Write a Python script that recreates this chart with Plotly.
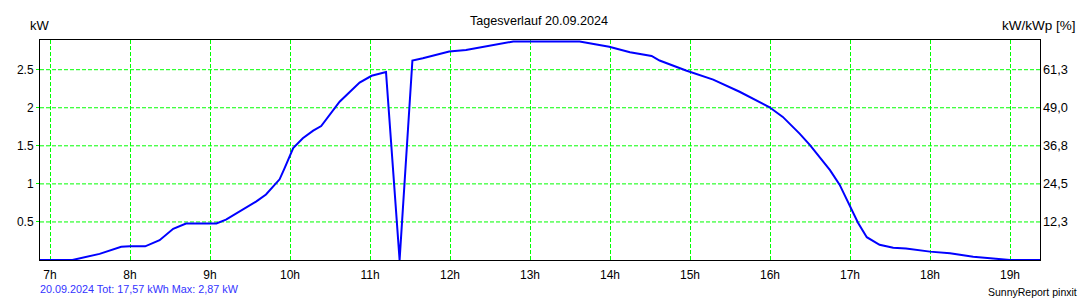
import plotly.graph_objects as go

# --- data ---
hours = [6.875, 7.28, 7.62, 7.89, 8.0, 8.19, 8.37, 8.54, 8.70, 9.08, 9.20, 9.41,
         9.58, 9.70, 9.79, 9.87, 9.93, 10.04, 10.16, 10.29, 10.39, 10.50, 10.62,
         10.75, 10.87, 11.02, 11.18, 11.20, 11.37, 11.53, 11.66, 11.99, 12.20,
         12.54, 12.79, 13.0, 13.62, 13.99, 14.25, 14.52, 14.62, 14.95, 15.29,
         15.62, 15.99, 16.16, 16.29, 16.37, 16.50, 16.66, 16.75, 16.87, 17.0,
         17.10, 17.21, 17.37, 17.54, 17.70, 18.0, 18.25, 18.54, 18.87, 19.0, 19.375]
power_kw = [0, 0, 0.08, 0.175, 0.18, 0.18, 0.26, 0.41, 0.48, 0.48, 0.53, 0.66,
            0.77, 0.86, 0.96, 1.06, 1.20, 1.47, 1.60, 1.70, 1.76, 1.91, 2.08,
            2.21, 2.33, 2.42, 2.47, 2.47, 0.0, 2.62, 2.65, 2.74, 2.76,
            2.82, 2.87, 2.87, 2.87, 2.80, 2.73, 2.68, 2.62, 2.49, 2.37,
            2.21, 2.01, 1.88, 1.75, 1.66, 1.51, 1.29, 1.18, 0.99, 0.70,
            0.49, 0.30, 0.20, 0.16, 0.15, 0.11, 0.088, 0.043, 0.01, 0.0, 0.0]

x_tickvals = list(range(7, 20))
x_ticktext = [f"{h}h" for h in x_tickvals]
y_tickvals = [0.5, 1.0, 1.5, 2.0, 2.5]
y_ticktext = ["0.5", "1", "1.5", "2", "2.5"]
y2_ticktext = ["12,3", "24,5", "36,8", "49,0", "61,3"]

title_text = "Tagesverlauf 20.09.2024"
left_unit = "kW"
right_unit = "kW/kWp [%]"
footer_left = "20.09.2024 Tot: 17,57 kWh Max: 2,87 kW"
footer_right = "SunnyReport pinxit"

FONT = "Liberation Sans, Arial, sans-serif"
GREEN = "#00ff00"
Y_MAX = 2.89
PLOT_TOP, PLOT_BOTTOM = 40, 260
PLOT_H = PLOT_BOTTOM - PLOT_TOP

fig = go.Figure()
fig.add_trace(go.Scatter(x=hours, y=power_kw, mode="lines",
                         line=dict(color="#0000ff", width=2),
                         showlegend=False, hoverinfo="skip"))

axis_font = dict(family=FONT, size=12, color="black")

fig.update_layout(
    template="none",
    width=1080, height=300,
    margin=dict(l=40, r=40, t=PLOT_TOP, b=300 - PLOT_BOTTOM),
    paper_bgcolor="white", plot_bgcolor="white",
    font=axis_font,
    xaxis=dict(range=[6.875, 19.375], tickvals=x_tickvals, ticktext=x_ticktext,
               showgrid=True, gridcolor=GREEN, gridwidth=1, griddash="4px,2px",
               showline=True, linecolor="black", linewidth=1, mirror=True,
               ticks="", ticklabelstandoff=4, zeroline=False, tickfont=axis_font,
               fixedrange=True),
    yaxis=dict(range=[0, Y_MAX], tickvals=y_tickvals, ticktext=y_ticktext,
               showgrid=False,
               showline=True, linecolor="black", linewidth=1, mirror=True,
               ticks="outside", ticklen=3, tickcolor=GREEN,
               zeroline=False, tickfont=axis_font, fixedrange=True),
)

# horizontal green dashed grid lines at the y tick values
for v in y_tickvals:
    fig.add_shape(type="line", xref="paper", yref="y", x0=0, x1=1, y0=v, y1=v,
                  line=dict(color=GREEN, width=1, dash="4px,2px"), layer="below")

# right-hand scale labels, placed on the left y axis values
for v, t in zip(y_tickvals, y2_ticktext):
    fig.add_annotation(text=t, x=1.0015, y=v, xref="paper", yref="y",
                       xanchor="left", yanchor="middle", showarrow=False,
                       font=dict(family=FONT, size=12.8, color="black"), borderpad=0)

def ann(text, x, y, xanchor, color="black", size=12):
    fig.add_annotation(text=text, x=x, y=y, xref="paper", yref="paper",
                       xanchor=xanchor, yanchor="middle", showarrow=False,
                       font=dict(family=FONT, size=size, color=color), borderpad=0)

ann(title_text, 0.499, (PLOT_BOTTOM - 20.5) / PLOT_H, "center", size=12.6)
ann(left_unit, 0.0, (PLOT_BOTTOM - 26) / PLOT_H, "center", size=13)
ann(right_unit, 1.0367, (PLOT_BOTTOM - 26) / PLOT_H, "right", size=13.5)
ann(footer_left, -0.001, (PLOT_BOTTOM - 288.5) / PLOT_H, "left", color="#3333ff", size=10.8)
ann(footer_right, 1.038, (PLOT_BOTTOM - 291.5) / PLOT_H, "right", size=10.5)

fig.write_html("out.html")
